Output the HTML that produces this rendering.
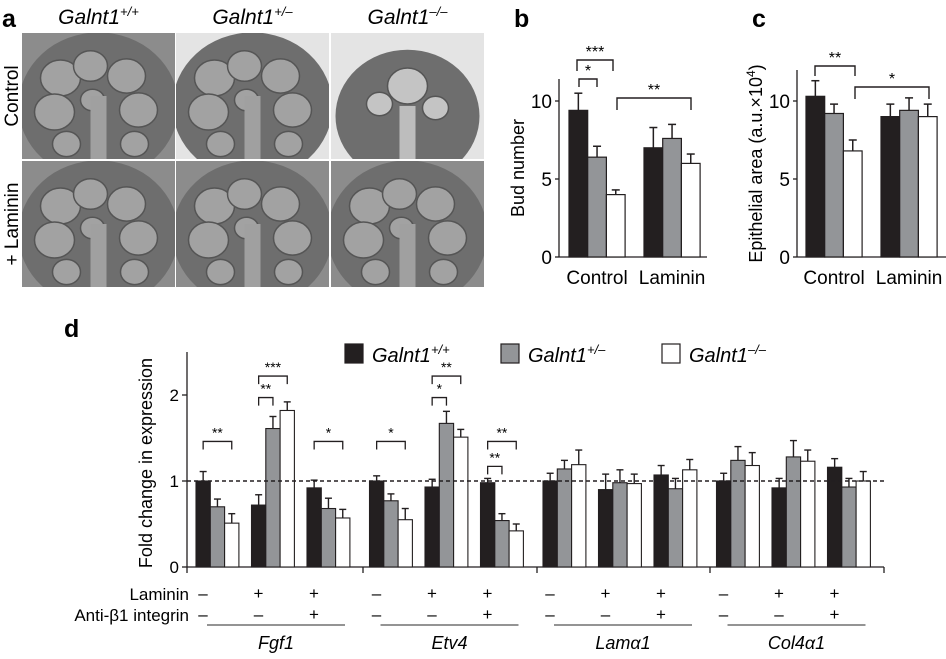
<!DOCTYPE html>
<html><head><meta charset="utf-8">
<style>
html,body{margin:0;padding:0;background:#fff;}
body{width:946px;height:654px;overflow:hidden;font-family:"Liberation Sans",sans-serif;}
svg text{font-family:"Liberation Sans",sans-serif;}
</style></head>
<body>
<svg id="fig" width="946" height="654" viewBox="0 0 946 654" xmlns="http://www.w3.org/2000/svg">
<g id="panelA"></g>
<g id="panelB"></g>
<g id="panelC"></g>
<g id="panelD"></g>
</svg>
<script>
// ---------- data ----------
const genotypes = ["+/+","+/\u2013","\u2013/\u2013"];
const bCategories = ["Control","Laminin"];
const bBlack = [9.4, 7.0], bBlackErr = [1.1, 1.3];
const bGray = [6.4, 7.6], bGrayErr = [0.7, 0.9];
const bWhite = [4.0, 6.0], bWhiteErr = [0.3, 0.6];
const bTicks = [0,5,10];
const cBlack = [10.3, 9.0], cBlackErr = [1.0, 0.8];
const cGray = [9.2, 9.4], cGrayErr = [0.6, 0.8];
const cWhite = [6.8, 9.0], cWhiteErr = [0.7, 0.8];
const cTicks = [0,5,10];
const dGenes = ["Fgf1","Etv4","Lam\u03b11","Col4\u03b11"];
const dLaminin = ["\u2013","+","+"];
const dAnti = ["\u2013","\u2013","+"];
const dBlack = [1.0,0.72,0.92, 1.0,0.93,0.98, 1.0,0.90,1.07, 1.0,0.92,1.16];
const dBlackErr = [0.11,0.12,0.09, 0.06,0.09,0.05, 0.09,0.18,0.11, 0.09,0.11,0.10];
const dGray = [0.70,1.61,0.68, 0.77,1.67,0.54, 1.14,0.98,0.91, 1.24,1.28,0.93];
const dGrayErr = [0.09,0.14,0.12, 0.08,0.14,0.08, 0.10,0.15,0.12, 0.16,0.19,0.10];
const dWhite = [0.51,1.82,0.57, 0.55,1.51,0.42, 1.19,0.97,1.13, 1.18,1.23,1.00];
const dWhiteErr = [0.11,0.10,0.10, 0.13,0.09,0.08, 0.17,0.11,0.12, 0.15,0.13,0.11];
const dTicks = [0,1,2];
const dSig = [[0,0,2,1.46,"**"],[1,0,1,1.97,"**"],[1,0,2,2.22,"***"],[2,0,2,1.46,"*"],
              [3,0,2,1.46,"*"],[4,0,1,1.97,"*"],[4,0,2,2.22,"**"],[5,0,1,1.17,"**"],[5,0,2,1.46,"**"]];

const NS="http://www.w3.org/2000/svg";
function mk(parent,tag,attrs,txt){const e=document.createElementNS(NS,tag);for(const k in attrs)e.setAttribute(k,attrs[k]);if(txt!==undefined)e.textContent=txt;parent.appendChild(e);return e;}
const fills=["#231f20","#939598","#ffffff"];

// ---------- panel a ----------
const A=document.getElementById('panelA');
let t=mk(A,'text',{x:2,y:27,'font-size':25,'font-weight':'bold'},'a');


const colX=[22,176,331], rowY=[33,161], iw=153, ih=126;
genotypes.forEach((g,i)=>{
  const tx=mk(A,'text',{x:colX[i]+iw/2,y:24,'font-size':21,'font-style':'italic','text-anchor':'middle'});
  
  
  tx.appendChild(document.createTextNode('Galnt1'));
  mk(tx,'tspan',{dy:-8,'font-size':13},g);
});
["Control","+ Laminin"].forEach((r,j)=>{
  const tx=mk(A,'text',{x:0,y:0,'font-size':19,'text-anchor':'middle',transform:`translate(18,${rowY[j]+ih/2}) rotate(-90)`},r);
  
  
});
for(let j=0;j<2;j++)for(let i=0;i<3;i++){
  const x=colX[i],y=rowY[j];
  const gg=mk(A,'g',{});
  
  
  const light=(j==0&&i>0);
  const cp='cp'+j+i;
  const c=mk(gg,'clipPath',{id:cp}); mk(c,'rect',{x,y,width:iw,height:ih});
  const inner=mk(gg,'g',{'clip-path':`url(#${cp})`});
  mk(inner,'rect',{x,y,width:iw,height:ih,fill:light?'#e4e4e4':'#8c8c8c'});
  const cx=x+iw/2, cy=y+ih/2+(j==0&&i==2?20:10);
  const rr=(j==0&&i==2)?72:80;
  mk(inner,'ellipse',{cx,cy,rx:rr,ry:rr*0.92,fill:'#6e6e6e'});
  const lobes=(j==0&&i==2)?[[0,-30,20],[-28,-12,13],[28,-8,13]]:[[-38,-28,20],[-8,-40,17],[28,-30,19],[-44,6,20],[40,4,19],[-32,38,14],[36,38,14],[-6,-6,12]];
  lobes.forEach(l=>mk(inner,'ellipse',{cx:cx+l[0],cy:cy+l[1],rx:l[2],ry:l[2]*0.9,fill:(j==0&&i==2)?'#c4c4c4':'#a2a2a2',stroke:'#555','stroke-width':1.5}));
  mk(inner,'rect',{x:cx-8,y:cy-10,width:16,height:y+ih-cy+10,fill:(j==0&&i==2)?'#bdbdbd':'#a0a0a0'});
}

// ---------- panels b & c ----------
function smallChart(G,letter,ax,axEnd,top,ticks,blk,be,gry,ge,wht,we,barX,ylab,ylabX,sigs){
  const y0=257, ppu=15.6; const Y=v=>y0-v*ppu;
  let l=mk(G,'text',{x:ax-45,y:27,'font-size':25,'font-weight':'bold'},letter);
  
  
  mk(G,'line',{x1:ax,y1:top,x2:ax,y2:y0,stroke:'#231f20','stroke-width':1.3});
  mk(G,'line',{x1:ax,y1:y0,x2:axEnd,y2:y0,stroke:'#231f20','stroke-width':1.3});
  ticks.forEach(v=>{
    mk(G,'line',{x1:ax-4,y1:Y(v),x2:ax,y2:Y(v),stroke:'#231f20','stroke-width':1.3});
    const tl=mk(G,'text',{x:ax-7,y:Y(v)+7,'font-size':19,'text-anchor':'end'},String(v));
    
    
  });
  const yl=mk(G,'text',{x:0,y:0,'font-size':18,'text-anchor':'middle',transform:`translate(${ylabX},${(top+y0)/2}) rotate(-90)`});
  
  
  if(ylab==='c'){yl.appendChild(document.createTextNode('Epithelial area (a.u.\u00d710'));mk(yl,'tspan',{dy:-7,'font-size':12},'4');mk(yl,'tspan',{dy:7},')');}
  else yl.textContent=ylab;
  const series=[[blk,be],[gry,ge],[wht,we]], bw=18.7;
  bCategories.forEach((cat,ci)=>{
    series.forEach((s,si)=>{
      const x=barX[ci]+si*bw, v=s[0][ci], e=s[1][ci];
      mk(G,'line',{x1:x+bw/2,y1:Y(v),x2:x+bw/2,y2:Y(v+e),stroke:'#231f20','stroke-width':1.5});
      mk(G,'line',{x1:x+bw/2-4,y1:Y(v+e),x2:x+bw/2+4,y2:Y(v+e),stroke:'#231f20','stroke-width':1.5});
      const r=mk(G,'rect',{x,y:Y(v),width:bw,height:y0-Y(v),fill:fills[si],stroke:'#231f20','stroke-width':1.2});
      
      
    });
    const cl=mk(G,'text',{x:barX[ci]+1.5*bw,y:y0+27,'font-size':19,'text-anchor':'middle'},cat);
    
    
  });
  sigs.forEach(s=>{
    const [x1,x2,y,d1,d2,lab]=s;
    mk(G,'path',{d:`M${x1},${y+d1}V${y}H${x2}V${y+d2}`,fill:'none',stroke:'#231f20','stroke-width':1.4});
    const st=mk(G,'text',{x:(x1+x2)/2,y:y-3,'font-size':16,'text-anchor':'middle'},lab);
    
    
  });
}
smallChart(document.getElementById('panelB'),'b',559,707,79,bTicks,bBlack,bBlackErr,bGray,bGrayErr,bWhite,bWhiteErr,[569,644],'Bud number',524,
  [[577,613,60,11,11,'***'],[579,597,79,8,8,'*'],[617,691,98,12,12,'**']]);
smallChart(document.getElementById('panelC'),'c',797,946,70,cTicks,cBlack,cBlackErr,cGray,cGrayErr,cWhite,cWhiteErr,[806,881],'c',762,
  [[815,855,66,10,10,'**'],[855,929,87,12,12,'*']]);

// ---------- panel d ----------
const D=document.getElementById('panelD');
const dy0=567, dppu=86, DY=v=>dy0-v*dppu;
const DX=(g,c,s)=>196+g*173.5+c*55.5+s*14.3, dbw=14.3;
t=mk(D,'text',{x:64,y:337,'font-size':25,'font-weight':'bold'},'d');


mk(D,'line',{x1:187,y1:352,x2:187,y2:dy0,stroke:'#231f20','stroke-width':1.3});
mk(D,'line',{x1:187,y1:dy0,x2:884,y2:dy0,stroke:'#231f20','stroke-width':1.3});
[187,363,537,710,884].forEach(x=>mk(D,'line',{x1:x,y1:dy0,x2:x,y2:dy0+6,stroke:'#231f20','stroke-width':1.3}));
dTicks.forEach(v=>{
  mk(D,'line',{x1:182,y1:DY(v),x2:187,y2:DY(v),stroke:'#231f20','stroke-width':1.3});
  const tl=mk(D,'text',{x:179,y:DY(v)+6,'font-size':17,'text-anchor':'end'},String(v));
  
  
});
t=mk(D,'text',{x:0,y:0,'font-size':18,'text-anchor':'middle',transform:'translate(152,463) rotate(-90)'},'Fold change in expression');


const ds=[[dBlack,dBlackErr],[dGray,dGrayErr],[dWhite,dWhiteErr]];
for(let k=0;k<dBlack.length;k++){
  const g=Math.floor(k/3), c=k%3;
  ds.forEach((s,si)=>{
    const x=DX(g,c,si), v=s[0][k], e=s[1][k];
    mk(D,'line',{x1:x+dbw/2,y1:DY(v),x2:x+dbw/2,y2:DY(v+e),stroke:'#231f20','stroke-width':1.4});
    mk(D,'line',{x1:x+dbw/2-3.5,y1:DY(v+e),x2:x+dbw/2+3.5,y2:DY(v+e),stroke:'#231f20','stroke-width':1.4});
    const r=mk(D,'rect',{x,y:DY(v),width:dbw,height:dy0-DY(v),fill:fills[si],stroke:'#231f20','stroke-width':1.1});
    
    
  });
}
mk(D,'line',{x1:187,y1:DY(1),x2:884,y2:DY(1),stroke:'#231f20','stroke-width':1.5,'stroke-dasharray':'4,3'});
dSig.forEach(s=>{
  const [k,a,b,lv,lab]=s; const g=Math.floor(k/3), c=k%3;
  const x1=DX(g,c,a)+dbw/2, x2=DX(g,c,b)+dbw/2, y=DY(lv);
  mk(D,'path',{d:`M${x1},${y+8}V${y}H${x2}V${y+8}`,fill:'none',stroke:'#231f20','stroke-width':1.3});
  const st=mk(D,'text',{x:(x1+x2)/2,y:y-4,'font-size':14,'text-anchor':'middle'},lab);
  
  
});
[[345,'+/+'],[501,'+/\u2013'],[662,'\u2013/\u2013']].forEach((L,i)=>{
  const r=mk(D,'rect',{x:L[0],y:344,width:18,height:19,fill:fills[i],stroke:'#231f20','stroke-width':1.2});
  
  
  const tx=mk(D,'text',{x:L[0]+27,y:362,'font-size':20,'font-style':'italic'});
  
  
  tx.appendChild(document.createTextNode('Galnt1'));
  mk(tx,'tspan',{dy:-8,'font-size':13},L[1]);
});
t=mk(D,'text',{x:189,y:600,'font-size':17,'text-anchor':'end'},'Laminin');


t=mk(D,'text',{x:189,y:621,'font-size':17,'text-anchor':'end'},'Anti-\u03b21 integrin');


dGenes.forEach((gn,g)=>{
  for(let c=0;c<3;c++){
    const cx=DX(g,c,0)+7;
    mk(D,'text',{x:cx,y:599,'font-size':17,'text-anchor':'middle'},dLaminin[c]);
    mk(D,'text',{x:cx,y:620,'font-size':17,'text-anchor':'middle'},dAnti[c]);
  }
  const x1=DX(g,0,0)+11, x2=DX(g,2,0)+38;
  mk(D,'line',{x1,y1:625,x2,y2:625,stroke:'#555','stroke-width':1.3});
  const gl=mk(D,'text',{x:(x1+x2)/2,y:649,'font-size':18,'font-style':'italic','text-anchor':'middle'},gn);
  
  
});
</script>
</body></html>
